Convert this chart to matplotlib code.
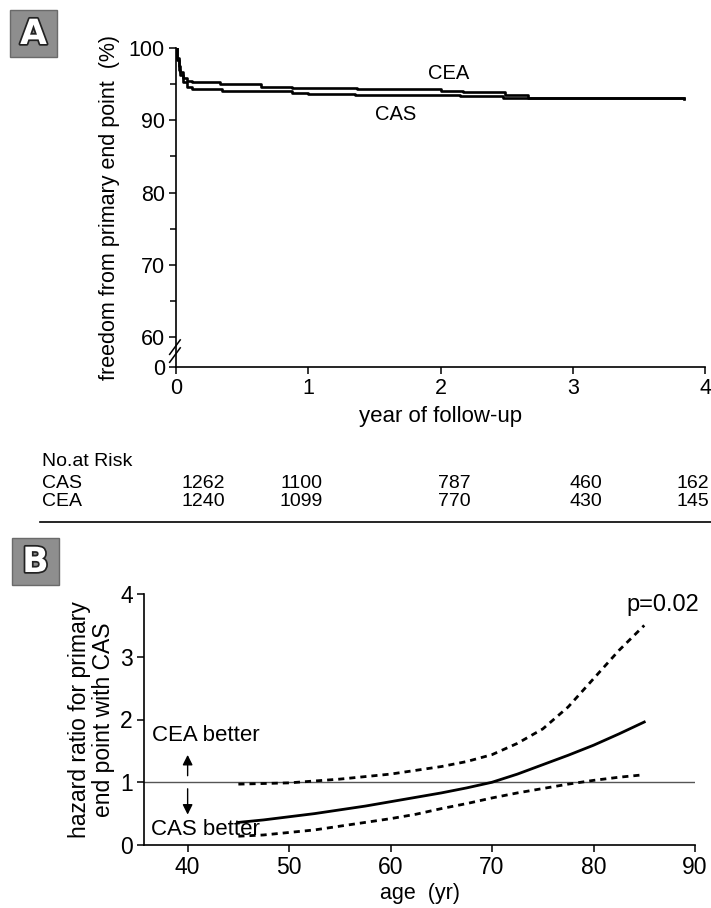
import numpy as np
import matplotlib
matplotlib.use('Agg')
import matplotlib.pyplot as plt
from matplotlib import ticker, patches
import matplotlib.patheffects as pe

plt.rcParams['font.family'] = ['Liberation Sans', 'DejaVu Sans']

# panel A: Kaplan-Meier style curves (year, % free from primary end point)
t_cea = [0, 0.01, 0.02, 0.03, 0.05, 0.08, 0.12, 0.33, 0.64, 0.88, 1.37, 2.0, 2.17, 2.49, 2.66, 3.84]
s_cea = [100, 98.6, 97.5, 96.7, 95.9, 95.5, 95.35, 95.0, 94.65, 94.45, 94.3, 94.1, 93.9, 93.5, 93.1, 93.1]
t_cas = [0, 0.01, 0.02, 0.03, 0.05, 0.08, 0.12, 0.35, 0.88, 1.0, 1.35, 2.15, 2.47, 3.84]
s_cas = [100, 98.3, 97.0, 96.2, 95.3, 94.6, 94.3, 94.05, 93.75, 93.6, 93.45, 93.3, 93.05, 93.0]

# number at risk table
risk_groups = ['CAS', 'CEA']
risk_cas = [1262, 1100, 787, 460, 162]
risk_cea = [1240, 1099, 770, 430, 145]

# panel B: hazard ratio vs age
age = [45, 47.5, 50, 52.5, 55, 57.5, 60, 62.5, 65, 67.5, 70, 72.5, 75, 77.5, 80, 82.5, 85]
hr = [0.36, 0.40, 0.45, 0.50, 0.56, 0.62, 0.69, 0.76, 0.83, 0.91, 1.00, 1.13, 1.28, 1.43, 1.59, 1.77, 1.96]
hr_hi = [0.97, 0.98, 0.99, 1.02, 1.05, 1.09, 1.13, 1.19, 1.25, 1.33, 1.44, 1.62, 1.85, 2.2, 2.65, 3.1, 3.5]
hr_lo = [0.14, 0.16, 0.20, 0.24, 0.30, 0.36, 0.42, 0.49, 0.58, 0.66, 0.75, 0.83, 0.90, 0.97, 1.03, 1.08, 1.12]

W, H = 711, 908
fig = plt.figure(figsize=(W / 100, H / 100), dpi=100)


def fx(px):
    return px / W


def fy(py):
    return 1 - py / H


def panel_label(x0, y0, letter):
    fig.patches.append(patches.Rectangle((fx(x0), fy(y0 + 47)), fx(47), 47 / H,
                                         transform=fig.transFigure, fc='#8e8e8e', ec='#6a6a6a', lw=1))
    t = fig.text(fx(x0 + 23.5), fy(y0 + 24), letter, ha='center', va='center',
                 fontsize=25, fontweight='bold', color='white', family='DejaVu Sans')
    t.set_path_effects([pe.withStroke(linewidth=2.5, foreground='#222222')])


def style_axis(ax, size):
    ax.spines['top'].set_visible(False)
    ax.spines['right'].set_visible(False)
    for s in ('left', 'bottom'):
        ax.spines[s].set_linewidth(1.2)
    ax.tick_params(direction='out', length=5, width=1.1, labelsize=size, pad=3)
    ax.tick_params(which='minor', direction='out', length=4, width=1.1)
    ax.patch.set_alpha(0)


# ---- panel A ----
zero_pos = 55.85  # where "0" sits below the axis break
axA = fig.add_axes([fx(176), fy(367), fx(705 - 176), (367 - 48) / H])
style_axis(axA, 15.5)
axA.step(t_cea, s_cea, where='post', color='black', lw=1.9)
axA.step(t_cas, s_cas, where='post', color='black', lw=1.9)
axA.set_xlim(0, 4)
axA.set_ylim(zero_pos, 100)
axA.set_yticks([zero_pos, 60, 70, 80, 90, 100])
axA.set_yticklabels(['0', '60', '70', '80', '90', '100'])
axA.yaxis.set_minor_locator(ticker.FixedLocator([65, 75, 85, 95]))
axA.xaxis.set_major_locator(ticker.MultipleLocator(1))
axA.set_xlabel('year of follow-up', fontsize=16, labelpad=5)
axA.set_ylabel('freedom from primary end point  (%)', fontsize=15.5, labelpad=6)
axA.text(2.06, 96.5, 'CEA', fontsize=14.5, ha='center', va='center')
axA.text(1.66, 90.8, 'CAS', fontsize=14.5, ha='center', va='center')
# axis break marks
tr = axA.get_yaxis_transform()
for dy in (0, -1.1):
    axA.plot([-0.012, 0.008], [57.6 + dy, 59.6 + dy], color='black', lw=1.1,
             transform=tr, clip_on=False)

# ---- number at risk ----
col_right = [225, 323, 471, 602, 709]
fig.text(fx(42), fy(462), 'No.at Risk', fontsize=14, va='center')
for row_y, name, vals in zip([483, 502], risk_groups, [risk_cas, risk_cea]):
    fig.text(fx(42), fy(row_y), name, fontsize=14, va='center')
    for cx, v in zip(col_right, vals):
        fig.text(fx(cx), fy(row_y), str(v), fontsize=14, va='center', ha='right')
fig.add_artist(plt.Line2D([fx(40), fx(711)], [fy(522), fy(522)], color='black', lw=1.2))

# ---- panel B ----
axB = fig.add_axes([fx(144), fy(845), fx(695 - 144), (845 - 594) / H])
style_axis(axB, 16.5)
axB.axhline(1, color='#555555', lw=1.0)
axB.plot(age, hr, color='black', lw=2)
axB.plot(age, hr_hi, color='black', lw=2, linestyle=(0, (2.2, 1.8)))
axB.plot(age, hr_lo, color='black', lw=2, linestyle=(0, (2.2, 1.8)))
axB.set_xlim(35.7, 90)
axB.set_ylim(0, 4)
axB.set_xticks([40, 50, 60, 70, 80, 90])
axB.set_yticks([0, 1, 2, 3, 4])
axB.set_xlabel('age  (yr)', fontsize=15.5, labelpad=3)
axB.set_ylabel('hazard ratio for primary\nend point with CAS', fontsize=16.5, labelpad=4,
               linespacing=1.05)
axB.text(41.8, 1.75, 'CEA better', fontsize=16, ha='center', va='center')
axB.text(41.8, 0.24, 'CAS better', fontsize=16, ha='center', va='center')
axB.annotate('', xy=(40, 1.48), xytext=(40, 1.06),
             arrowprops=dict(arrowstyle='-|>', color='black', lw=1, mutation_scale=15))
axB.annotate('', xy=(40, 0.44), xytext=(40, 0.94),
             arrowprops=dict(arrowstyle='-|>', color='black', lw=1, mutation_scale=15))
axB.text(86.8, 3.83, 'p=0.02', fontsize=17, ha='center', va='center')

panel_label(10, 10, 'A')
panel_label(12, 538, 'B')

fig.savefig('out.png', dpi=100)
